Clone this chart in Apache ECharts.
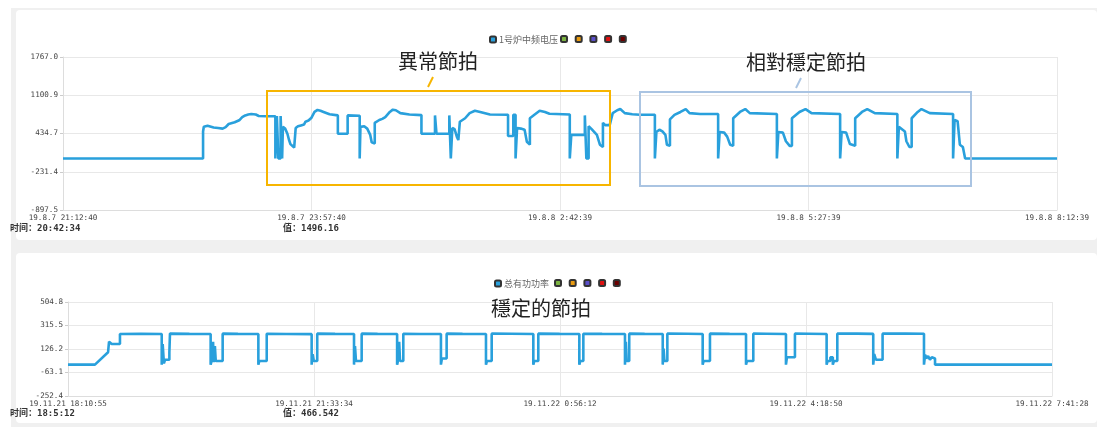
<!DOCTYPE html>
<html>
<head>
<meta charset="utf-8">
<script src="https://cdn.jsdelivr.net/npm/echarts@6/dist/echarts.min.js"></script>
<style>
html,body{margin:0;padding:0;background:#fff}
#chart{width:1097px;height:427px}
</style>
</head>
<body>
<div id="chart"></div>
<script>
// 上图：1号炉中频电压，x 为距 19.8.7 21:12:40 的分钟数
const voltage = [
  [0,0],[93,0],[93,470],[93.5,553],[96,570],[100,540],[103,530],[106,520],[108,545],[110,600],[114,630],[117,665],
  [119,720],[121,750],[123,765],[125,775],[128,765],[130,740],[135,735],[141,735],
  [141,0],[142,0],[142,740],[143,740],[143,0],[144.5,0],[144.5,740],[145.5,740],[145.5,0],[146,0],[146,550],
  [147.5,520],[149,430],[150,330],[151,250],[152,230],[153.5,190],[154.5,160],[154.5,530],[156,560],[158,575],
  [160,590],[161,640],[163,660],[165,710],[167,810],[169,845],[171,830],[173,810],[177,770],[182.5,750],
  [182.5,430],[189,430],[189,750],[197,745],[197,0],[197.5,0],[197.5,550],[200,560],[202,520],[204,410],
  [205,280],[207,260],[207,620],[210,670],[212,690],[214,720],[217,810],[219,850],[221,840],[224,790],
  [230,765],[238,755],[238,430],[247,430],[247,750],[248,750],[248,430],[256.5,430],[256.5,750],[257.5,750],
  [257.5,0],[258.5,0],[258.5,530],[260,510],[261.5,380],[262.5,320],[263.5,300],[263.5,640],[267,700],
  [270,790],[273.5,830],[277,810],[283.5,765],[295.5,760],[295.5,390],[299,390],[299,760],[300.5,760],
  [300.5,0],[301.5,0],[301.5,530],[304,520],[306.5,500],[308,290],[310,240],[310,700],[313,760],[316.5,830],
  [320,810],[323,780],[336.5,765],[336.5,0],[337.5,0],[337.5,410],[346.5,410],[346.5,750],[347.5,750],
  [347.5,0],[349,0],[349,560],[351,510],[354.5,410],[356.5,240],[358.5,200],[358.5,620],[360,580],[363,580],
  [365,790],[368,840],[370,860],[373,790],[378,770],[383,760],[393,760],
  [393,0],[394,0],[394,460],[396,500],[398,470],[400,410],[401,240],[403,220],[403,680],[406,760],[410,810],
  [413.5,860],[416,790],[423,775],[435,775],[435,0],[436,0],[436,460],[439,450],[441,380],[443,240],[445,220],
  [445,700],[449.5,810],[453,860],[456,790],[474,775],[474,0],[475,0],[475,460],[478,450],[480,300],
  [482.5,220],[484,220],[484,700],[489,810],[493,860],[497,790],[516,775],[516,0],[517,0],[517,460],[520,450],
  [522.5,250],[526,220],[526,700],[530.5,810],[534,860],[539,790],[554,775],[554,0],[555,0],[555,550],
  [557.5,500],[559,470],[560,300],[562,200],[563.5,200],[563.5,700],[567.5,810],[570,860],[575.5,790],
  [591,775],[591,0],[592,0],[592,670],[594,650],[595.5,240],[597.5,200],[599,0],[660,0]
];

// 下图：总有功功率，x 为距 19.11.21 18:10:55 的分钟数
const power = [
  [0,0],[22.2,0],[33,100],[33.5,100],[33.8,185],[35,180],[36,166],[42.8,166],[42.8,247],[60,249],[77.2,247],
  [77.2,0],[78,0],[78,166],[79,166],[79,10],[80,10],[80,40],[83.5,40],[83.5,100],[84,100],[84,250],[100,248],[117.5,247],
  [117.5,0],[118.5,0],[118.5,40],[119.5,40],[119.5,185],[120,185],[120,20],[121,20],[121,150],[121.7,150],[121.7,30],[127.4,30],[127.4,250],[140,248],[156.8,247],
  [156.8,0],[157.6,0],[157.6,30],[163.7,30],[163.7,249],[180,247],[200.7,246],
  [200.7,0],[201.5,0],[201.5,85],[202.5,85],[202.5,30],[205.3,30],[205.3,250],[220,248],[235.6,247],
  [235.6,0],[236.4,0],[236.4,150],[237.2,150],[237.2,30],[241.9,30],[241.9,250],[255,248],[271.1,247],
  [271.1,0],[272,0],[272,40],[272.8,40],[272.8,185],[273.5,185],[273.5,30],[276.2,30],[276.2,249],[290,247],[307.2,247],
  [307.2,0],[308,0],[308,50],[311.9,50],[311.9,250],[325,248],[344.3,247],
  [344.3,0],[345.1,0],[345.1,30],[349,30],[349,250],[365,249],[383.3,247],
  [383.3,0],[384.1,0],[384.1,30],[387.4,30],[387.4,250],[405,248],[421.2,247],
  [421.2,0],[422,0],[422,30],[424.5,30],[424.5,249],[440,248],[458.8,247],
  [458.8,0],[459.5,0],[459.5,185],[460.2,185],[460.2,30],[462.3,30],[462.3,250],[475,248],[489.9,247],
  [489.9,0],[490.6,0],[490.6,130],[491.3,130],[491.3,30],[493.7,30],[493.7,250],[510,249],[522.8,247],
  [522.8,0],[523.6,0],[523.6,30],[528.8,30],[528.8,250],[545,248],[558.5,247],
  [558.5,0],[559.3,0],[559.3,30],[564.5,30],[564.5,250],[575,249],[591.4,247],
  [591.4,0],[592.2,0],[592.2,60],[598.8,60],[598.8,250],[610,249],[624.9,247],
  [624.9,0],[625.7,0],[625.7,30],[628,30],[628,60],[630,60],[630,0],[631,0],[631,30],[633.7,30],[633.7,250],[650,250],[663.3,248],
  [663.3,0],[664.1,0],[664.1,85],[665.5,85],[665.5,40],[671,40],[671,250],[690,251],[705.1,249],
  [705.1,0],[706,0],[706,80],[707,50],[708.5,70],[710,40],[711.5,60],[713,50],[714.2,50],[714.2,0],[810.55,0]
];

// 刻度标签
const voltXLabels = ['19.8.7 21:12:40', '19.8.7 23:57:40', '19.8.8 2:42:39', '19.8.8 5:27:39', '19.8.8 8:12:39'];
const voltYLabels = ['-897.5', '-231.4', '434.7', '1100.9', '1767.0'];
const powerXLabels = ['19.11.21 18:10:55', '19.11.21 21:33:34', '19.11.22 0:56:12', '19.11.22 4:18:50', '19.11.22 7:41:28'];
const powerYLabels = ['-252.4', '-63.1', '126.2', '315.5', '504.8'];

const voltLegend = ['1号炉中频电压', '_a2', '_a3', '_a4', '_a5', '_a6'];
const powerLegend = ['总有功功率', '_b2', '_b3', '_b4', '_b5', '_b6'];
const legendColors = ['#29a0dc', '#7cb342', '#e89a10', '#5b4fc9', '#e01010', '#6b0000'];

// y 轴从 min 开始按间隔取刻度，所以把数值整体平移到 0 起
const voltMin = -897.5, voltStep = 666.125;
const powerMin = -252.4, powerStep = 189.3;
const voltSpan = 660, powerSpan = 810.55;

const tickFont = { fontSize: 7.6, color: '#444', fontFamily: 'DejaVu Sans Mono' };
const gridLine = { show: true, lineStyle: { color: '#e8e8e8', width: 1 } };

const mkX = (idx, span, labels) => ({
  type: 'value', gridIndex: idx, min: 0, max: span, interval: span / 4,
  axisLine: { lineStyle: { color: '#ddd' } },
  axisTick: { show: false },
  splitLine: gridLine,
  axisLabel: Object.assign({ margin: 4, showMinLabel: true, showMaxLabel: true,
    formatter: v => labels[Math.round(v / (span / 4))] }, tickFont)
})

const mkY = (idx, step, labels) => ({
  type: 'value', gridIndex: idx, min: 0, max: step * 4, interval: step,
  axisLine: { show: true, lineStyle: { color: '#ddd' } },
  axisTick: { show: true, length: 3, lineStyle: { color: '#ccc' } },
  splitLine: gridLine,
  axisLabel: Object.assign({ margin: 5, formatter: v => labels[Math.round(v / step)] }, tickFont)
})

const mkSeries = (names, data, idx, shift) => names.map((n, i) => ({
  name: n, type: 'line', xAxisIndex: idx, yAxisIndex: idx,
  showSymbol: false, symbol: 'none',
  itemStyle: { color: legendColors[i], borderColor: '#333', borderWidth: 0.5 },
  lineStyle: { color: legendColors[i], width: 2.6 },
  data: i === 0 ? data.map(p => [p[0], p[1] - shift]) : []
}))

// 每个面板两段图例：有名称的一项 + 五个空色块
const mkLegend = (names, left, top, gap) => ({
  data: names, left: left, top: top, padding: 0, itemWidth: 6, itemHeight: 6, itemGap: gap,
  icon: 'roundRect', selectedMode: false,
  formatter: n => n.charAt(0) === '_' ? '' : n,
  textStyle: { fontSize: 9, color: '#666', fontFamily: 'Noto Sans CJK SC', padding: [0, 0, 0, -2] }
})

const bigFont = '20px "Noto Sans CJK TC"';
const smallFont = 'bold 9px "DejaVu Sans Mono", "Noto Sans CJK SC"';

const chart = echarts.init(document.getElementById('chart'))
chart.setOption({
  animation: false,
  grid: [
    { left: 63, right: 40, top: 57, height: 153 },
    { left: 68, right: 45, top: 302, height: 94 }
  ],
  legend: [
    mkLegend(voltLegend.slice(0, 1), 489, 35, 5),
    mkLegend(voltLegend.slice(1), 560, 35, 6.7),
    mkLegend(powerLegend.slice(0, 1), 494, 279, 5),
    mkLegend(powerLegend.slice(1), 554, 279, 6.7)
  ],
  xAxis: [mkX(0, voltSpan, voltXLabels), mkX(1, powerSpan, powerXLabels)],
  yAxis: [mkY(0, voltStep, voltYLabels), mkY(1, powerStep, powerYLabels)],
  series: mkSeries(voltLegend, voltage, 0, voltMin).concat(mkSeries(powerLegend, power, 1, powerMin)),
  graphic: [
    // 面板底色
    { type: 'rect', z: -10, shape: { x: 11, y: 8, width: 1086, height: 419 }, style: { fill: '#f0f0f0' } },
    { type: 'rect', z: -9, shape: { x: 16, y: 10, width: 1081, height: 230, r: 4 }, style: { fill: '#fff' } },
    { type: 'rect', z: -9, shape: { x: 16, y: 253, width: 1081, height: 170, r: 4 }, style: { fill: '#fff' } },
    // 标注框
    { type: 'rect', z: 100, shape: { x: 267, y: 91, width: 343, height: 94 }, style: { fill: 'none', stroke: '#f7b500', lineWidth: 2 } },
    { type: 'rect', z: 100, shape: { x: 640, y: 92, width: 331, height: 94 }, style: { fill: 'none', stroke: '#aac4e2', lineWidth: 2 } },
    { type: 'line', z: 100, shape: { x1: 428, y1: 87, x2: 433, y2: 77 }, style: { stroke: '#f7b500', lineWidth: 2 } },
    { type: 'line', z: 100, shape: { x1: 796, y1: 88, x2: 801, y2: 78 }, style: { stroke: '#aac4e2', lineWidth: 2 } },
    { type: 'text', z: 100, style: { text: '異常節拍', x: 438, y: 61, font: bigFont, fill: '#222', align: 'center', verticalAlign: 'middle' } },
    { type: 'text', z: 100, style: { text: '相對穩定節拍', x: 806, y: 62, font: bigFont, fill: '#222', align: 'center', verticalAlign: 'middle' } },
    { type: 'text', z: 100, style: { text: '穩定的節拍', x: 541, y: 308, font: bigFont, fill: '#222', align: 'center', verticalAlign: 'middle' } },
    // 底部读数
    { type: 'text', z: 100, style: { text: '时间：20:42:34', x: 10, y: 229, font: smallFont, fill: '#333', verticalAlign: 'middle' } },
    { type: 'text', z: 100, style: { text: '值：1496.16', x: 283, y: 229, font: smallFont, fill: '#333', verticalAlign: 'middle' } },
    { type: 'text', z: 100, style: { text: '时间：18:5:12', x: 10, y: 414, font: smallFont, fill: '#333', verticalAlign: 'middle' } },
    { type: 'text', z: 100, style: { text: '值：466.542', x: 283, y: 414, font: smallFont, fill: '#333', verticalAlign: 'middle' } }
  ]
})
</script>
</body>
</html>
